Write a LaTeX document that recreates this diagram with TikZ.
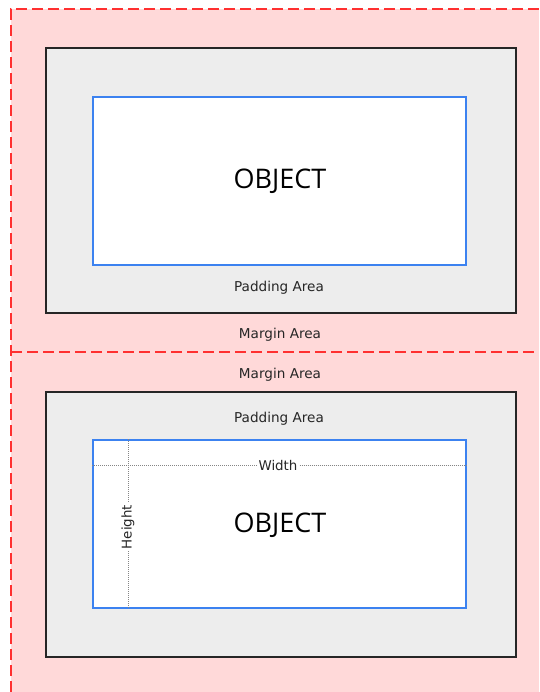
\documentclass[tikz,border=0pt]{standalone}
\usepackage{fontspec}
\setmainfont{DejaVu Sans}
\newfontfamily\objfont{Open Sans}
\definecolor{marginpink}{HTML}{FFD9D9}
\definecolor{marginred}{HTML}{FF3030}
\definecolor{padgray}{HTML}{EDEDED}
\definecolor{objblue}{HTML}{3C82F0}
\definecolor{dimgray}{HTML}{858585}
\definecolor{labelgray}{HTML}{262626}
\begin{document}
\begin{tikzpicture}[x=1pt,y=-1pt,
  marginline/.style={draw=marginred, line width=1.8pt, dash pattern=on 11pt off 5pt},
  padbox/.style={draw=black!85, fill=padgray, line width=1.7pt, inner sep=0pt,
                 minimum width=470pt, minimum height=265pt, anchor=north west},
  padshadow/.style={fill=black!35, inner sep=0pt,
                 minimum width=470pt, minimum height=265pt, anchor=north west},
  objbox/.style={draw=objblue, fill=white, line width=1.6pt, inner sep=0pt,
                 minimum width=373pt, minimum height=168pt, anchor=north west},
  objtext/.style={font=\objfont\fontsize{27}{30}\selectfont, text=black},
  arealabel/.style={font=\fontsize{13.6}{15}\selectfont, text=labelgray, inner sep=1pt},
  dimlabel/.style={font=\fontsize{13.4}{15}\selectfont, text=labelgray, inner sep=2pt},
  dimline/.style={draw=dimgray, line width=1pt, dash pattern=on 1pt off 1pt}
]
\useasboundingbox (0,0) rectangle (539,692);

% margin area
\fill[marginpink] (11,9) rectangle (539,692);
\coordinate (mtl) at (11,9);
\coordinate (mtr) at (539,9);
\coordinate (mbl) at (11,692);
\coordinate (mml) at (11,352);
\coordinate (mmr) at (539,352);
\draw[marginline, line width=1.4pt] (mbl) -- (mtl) -- (mtr);
\draw[marginline] (mml) -- (mmr);

% ---- upper box model ----
\node[padshadow] (sh1) at (46.5,48.5) {};
\node[padbox] (pad1) at (45,47) {};
\node[objbox] (obj1) at (92,96) {};
\node[objtext] (objt1) at (280,181) {OBJECT};
\node[arealabel] (padl1) at (279,288) {Padding Area};
\node[arealabel] (marl1) at (280,335) {Margin Area};

% ---- lower box model ----
\node[arealabel] (marl2) at (280,375) {Margin Area};
\node[padshadow] (sh2) at (46.5,392.5) {};
\node[padbox] (pad2) at (45,391) {};
\node[arealabel] (padl2) at (279,419) {Padding Area};
\node[objbox] (obj2) at (92,439) {};
\node[objtext] (objt2) at (280,525) {OBJECT};

% width and height guides
\node[dimlabel] (wl) at (278,465) {Width};
\node[dimlabel, rotate=90] (hl) at (128,527) {Height};
\coordinate (wa) at (obj2.west |- wl);
\coordinate (wb) at (obj2.east |- wl);
\coordinate (ha) at (hl |- obj2.north);
\coordinate (hb) at (hl |- obj2.south);
\draw[dimline] (wa) -- (wl.west);
\draw[dimline] (wl.east) -- (wb);
\draw[dimline] (ha) -- (hl.east);
\draw[dimline] (hl.west) -- (hb);
\end{tikzpicture}
\end{document}
